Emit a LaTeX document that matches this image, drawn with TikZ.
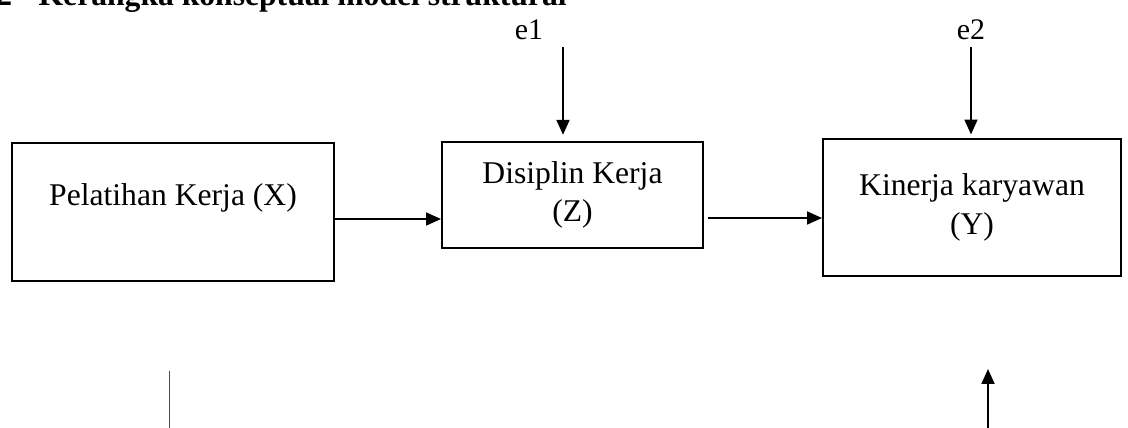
\documentclass[tikz,border=0pt]{standalone}
\usepackage{fontspec}
\setmainfont{Liberation Serif}
\usetikzlibrary{arrows.meta}
\tikzset{
  box/.style={draw=black, line width=1.2pt, fill=white, align=center, font=\fontsize{18}{21.8}\selectfont},
  lbl/.style={font=\fontsize{18}{21.8}\selectfont, inner sep=0pt},
  arr/.style={line width=1pt, -{Triangle[length=8.5pt,width=7.4pt]}}
}

\begin{document}
\begin{tikzpicture}[x=0.02cm, y=-0.02cm]
        \useasboundingbox (0,0) rectangle (1128,428);
        \clip (0,0) rectangle (1128,428);

        \node[lbl, font=\fontsize{18}{22}\selectfont\bfseries, anchor=base east] (title) at (567,6) {2\hspace{15pt}Kerangka konseptual model struktural};

        \node[box, minimum width=6.44cm, minimum height=2.76cm] (X) at (173,212) {};
        \node[lbl] (xtext) at (173,198) {Pelatihan Kerja (X)};
        \node[box, minimum width=5.22cm, minimum height=2.12cm] (Z) at (572.5,195) {Disiplin Kerja\\(Z)};
        \node[box, minimum width=5.96cm, minimum height=2.74cm] (Y) at (972,207.5) {Kinerja karyawan\\(Y)};
        \node[lbl, font=\fontsize{17}{20}\selectfont] (e1) at (529,30) {e1};
        \node[lbl, font=\fontsize{17}{20}\selectfont] (e2) at (971,30) {e2};

        \coordinate (e1a) at (563,47);
        \coordinate (e2a) at (971,47);
        \coordinate (xz) at (0,219);
        \coordinate (zy) at (708,218);
        \coordinate (xtop) at (169,371);
        \coordinate (xbot) at (169,432);
        \coordinate (ytip) at (988,369);
        \coordinate (ybot) at (988,432);

        \draw[arr, shorten >=3.5pt] (e1a) -- (e1a |- Z.north);
        \draw[arr, shorten >=2pt] (e2a) -- (e2a |- Y.north);
        \draw[arr] (X.east |- xz) -- (Z.west |- xz);
        \draw[arr] (zy) -- (zy -| Y.west);
        \draw[line width=0.5pt, black!70] (xtop) -- (xbot);
        \draw[arr] (ybot) -- (ytip);
      \end{tikzpicture}
\end{document}
